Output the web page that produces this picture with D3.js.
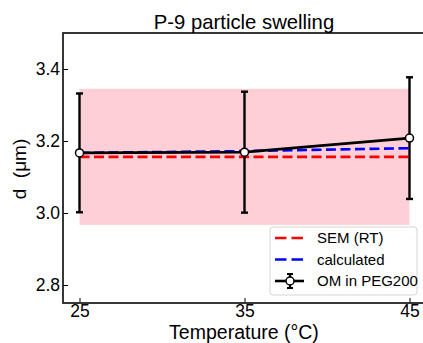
<!DOCTYPE html>
<html>
<head>
<meta charset="utf-8">
<script src="https://cdn.jsdelivr.net/npm/d3@7"></script>
<style>
  body { margin: 0; background: #fff; }
  text { font-family: "Liberation Sans", Arial, sans-serif; fill: #000; }
</style>
</head>
<body>
<div id="vis"></div>
<script>
// data
const temps = [25, 35, 45];
const omMean = [3.167, 3.169, 3.208];
const omErr = [0.165, 0.168, 0.169];
const semRT = [3.156, 3.156, 3.156];
const calculated = [3.167, 3.172, 3.180];
const semBand = [2.967, 3.345]; // low, high
const xTicks = [25, 35, 45];
const yTicks = [2.8, 3.0, 3.2, 3.4];

const W = 423, H = 343;

const svg = d3.select("#vis")
  .append("svg")
    .attr("width", W)
    .attr("height", H);

const x = d3.scaleLinear().domain([24, 46]).range([63, 426]);
const y = d3.scaleLinear().domain([2.75, 3.5]).range([303, 33]);

// SEM band
svg.append("rect")
    .attr("x", x(temps[0]))
    .attr("y", y(semBand[1]))
    .attr("width", x(temps[2]) - x(temps[0]))
    .attr("height", y(semBand[0]) - y(semBand[1]))
    .attr("fill", "#ffcfd7");

const line = d3.line().x((d, i) => x(temps[i])).y(d => y(d));

svg.append("path")
    .datum(semRT)
    .attr("d", line)
    .attr("fill", "none")
    .attr("stroke", "#ff0000")
    .attr("stroke-width", 2.6)
    .attr("stroke-dasharray", "10,4.5");

svg.append("path")
    .datum(calculated)
    .attr("d", line)
    .attr("fill", "none")
    .attr("stroke", "#0000ff")
    .attr("stroke-width", 2.6)
    .attr("stroke-dasharray", "10,4.5");

// error bars
const eb = svg.append("g").attr("stroke", "#000").attr("stroke-width", 2.4);
temps.forEach((t, i) => {
  const cx = x(t), top = y(omMean[i] + omErr[i]), bot = y(omMean[i] - omErr[i]);
  eb.append("line").attr("x1", cx).attr("x2", cx).attr("y1", top).attr("y2", bot);
  eb.append("line").attr("x1", cx - 3.5).attr("x2", cx + 3.5).attr("y1", top).attr("y2", top);
  eb.append("line").attr("x1", cx - 3.5).attr("x2", cx + 3.5).attr("y1", bot).attr("y2", bot);
});

svg.append("path")
    .datum(omMean)
    .attr("d", line)
    .attr("fill", "none")
    .attr("stroke", "#000")
    .attr("stroke-width", 2.6);

svg.append("g")
  .selectAll("circle")
  .data(omMean)
  .join("circle")
    .attr("cx", (d, i) => x(temps[i]))
    .attr("cy", d => y(d))
    .attr("r", 4)
    .attr("fill", "#fff")
    .attr("stroke", "#000")
    .attr("stroke-width", 1.5);

// axes, ticks pointing in
svg.append("g")
    .attr("transform", `translate(0, ${y(2.75)})`)
    .call(d3.axisBottom(x).tickValues(xTicks).tickSizeInner(-5).tickSizeOuter(0).tickPadding(2))
    .call(g => g.select(".domain").remove())
    .call(g => g.selectAll("text").attr("font-size", 17.5));

svg.append("g")
    .attr("transform", `translate(${x(24)}, 0)`)
    .call(d3.axisLeft(y).tickValues(yTicks).tickFormat(d3.format(".1f")).tickSizeInner(-5).tickSizeOuter(0).tickPadding(3))
    .call(g => g.select(".domain").remove())
    .call(g => g.selectAll("text").attr("font-size", 17.5));

// frame
svg.append("rect")
    .attr("x", x(24))
    .attr("y", y(3.5))
    .attr("width", x(46) - x(24))
    .attr("height", y(2.75) - y(3.5))
    .attr("fill", "none")
    .attr("stroke", "#222")
    .attr("stroke-width", 1.8);

// labels
svg.append("text")
    .attr("x", 244).attr("y", 29)
    .attr("text-anchor", "middle")
    .attr("font-size", 20.3)
    .text("P-9 particle swelling");

svg.append("text")
    .attr("x", 244).attr("y", 339)
    .attr("text-anchor", "middle")
    .attr("font-size", 19.5)
    .text("Temperature (°C)");

svg.append("text")
    .attr("transform", "translate(26, 169) rotate(-90)")
    .attr("text-anchor", "middle")
    .attr("font-size", 19)
    .style("white-space", "pre")
    .text("d  (μm)");

// legend
const lg = svg.append("g");
lg.append("rect")
    .attr("x", 270).attr("y", 227)
    .attr("width", 147).attr("height", 68)
    .attr("rx", 3)
    .attr("fill", "#fff").attr("fill-opacity", 0.85)
    .attr("stroke", "#d4d4d4");

const items = [
  { label: "SEM (RT)", color: "#ff0000", dash: "11.5,5" },
  { label: "calculated", color: "#0000ff", dash: "11.5,5" },
  { label: "OM in PEG200", color: "#000", dash: null }
];
items.forEach((it, i) => {
  const ly = 238 + i * 21.5;
  lg.append("line")
      .attr("x1", 275).attr("x2", 304)
      .attr("y1", ly).attr("y2", ly)
      .attr("stroke", it.color)
      .attr("stroke-width", 2.6)
      .attr("stroke-dasharray", it.dash);
  if (!it.dash) {
    lg.append("line").attr("x1", 290).attr("x2", 290).attr("y1", ly - 7).attr("y2", ly + 7)
        .attr("stroke", "#000").attr("stroke-width", 2.2);
    lg.append("line").attr("x1", 287).attr("x2", 293).attr("y1", ly - 7).attr("y2", ly - 7)
        .attr("stroke", "#000").attr("stroke-width", 2);
    lg.append("line").attr("x1", 287).attr("x2", 293).attr("y1", ly + 7).attr("y2", ly + 7)
        .attr("stroke", "#000").attr("stroke-width", 2);
    lg.append("circle").attr("cx", 290).attr("cy", ly).attr("r", 4)
        .attr("fill", "#fff").attr("stroke", "#000").attr("stroke-width", 1.5);
  }
  lg.append("text")
      .attr("x", 317).attr("y", ly)
      .attr("dy", "0.35em")
      .attr("font-size", 15)
      .text(it.label);
});
</script>
</body>
</html>
